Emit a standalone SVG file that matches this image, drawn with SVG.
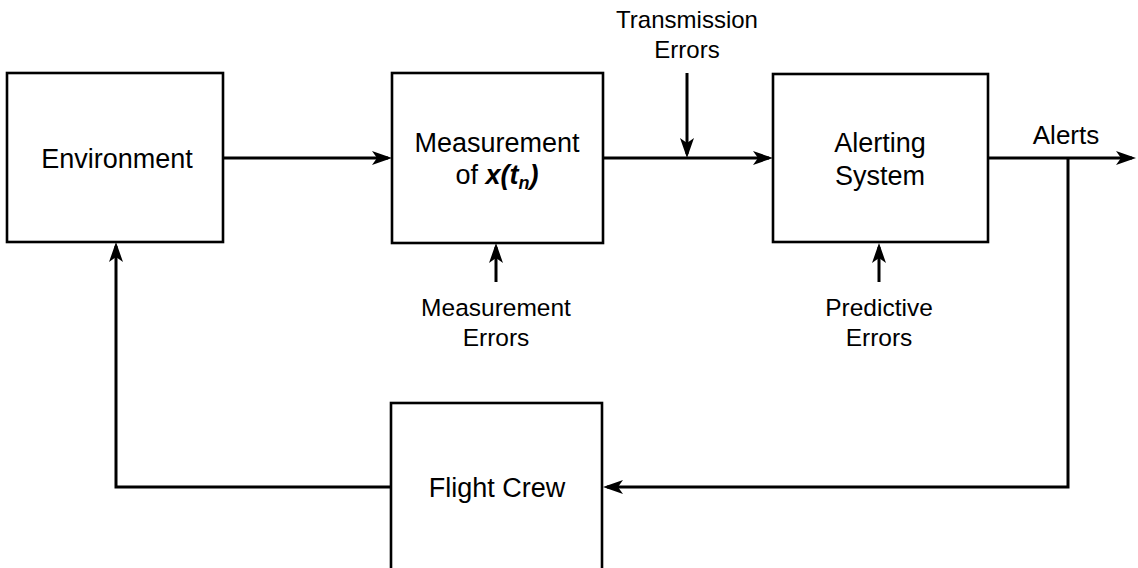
<svg xmlns="http://www.w3.org/2000/svg" width="1138" height="568" viewBox="0 0 1138 568">
<defs>
<style>
.box{fill:#fff;stroke:#000;stroke-width:2.6}
.ln{fill:none;stroke:#000;stroke-width:3}
.t{font-family:"Liberation Sans",Arial,sans-serif;fill:#000;text-anchor:middle}
.bl{font-size:27px}
.el{font-size:24.5px}
.bi{font-weight:bold;font-style:italic}
</style>
<marker id="ah" markerUnits="userSpaceOnUse" markerWidth="22" markerHeight="16" viewBox="0 0 22 16" refX="17" refY="8" orient="auto">
<path d="M21,8 L1,1 L6,8 L1,15 Z" fill="#000"/>
</marker>
</defs>
<rect width="1138" height="568" fill="#fff"/>
<g id="connectors">
<line class="ln" x1="223" y1="158" x2="388" y2="158" marker-end="url(#ah)"/>
<line class="ln" x1="603" y1="158" x2="769" y2="158" marker-end="url(#ah)"/>
<line class="ln" x1="687" y1="73" x2="687" y2="154" marker-end="url(#ah)"/>
<line class="ln" x1="496" y1="282" x2="496" y2="247" marker-end="url(#ah)"/>
<line class="ln" x1="879" y1="282" x2="879" y2="247" marker-end="url(#ah)"/>
<line class="ln" x1="988" y1="158" x2="1132" y2="158" marker-end="url(#ah)"/>
<polyline class="ln" points="1068,158 1068,487 607,487" marker-end="url(#ah)"/>
<polyline class="ln" points="391,487 116,487 116,246" marker-end="url(#ah)"/>
</g>
<g id="environment">
<rect class="box" x="7" y="73" width="216" height="169"/>
<text class="t bl" x="117" y="168">Environment</text>
</g>
<g id="measurement">
<rect class="box" x="392" y="73" width="211" height="170"/>
<text class="t bl" x="497" y="152">Measurement</text>
<text class="t bl" x="497" y="184">of <tspan class="bi">x(t</tspan><tspan class="bi" font-size="18" dy="5">n</tspan><tspan class="bi" dy="-5">)</tspan></text>
</g>
<g id="alerting">
<rect class="box" x="773" y="74" width="215" height="168"/>
<text class="t bl" x="880" y="152">Alerting</text>
<text class="t bl" x="880" y="185">System</text>
</g>
<g id="flightcrew">
<rect class="box" x="391" y="403" width="211" height="170"/>
<text class="t bl" x="497" y="497">Flight Crew</text>
</g>
<g id="labels">
<text class="t" font-size="24" x="687" y="28">Transmission</text>
<text class="t" font-size="24" x="687" y="58">Errors</text>
<text class="t" font-size="26" x="1066" y="144">Alerts</text>
<text class="t el" x="496" y="316">Measurement</text>
<text class="t el" x="496" y="346">Errors</text>
<text class="t el" x="879" y="316">Predictive</text>
<text class="t el" x="879" y="346">Errors</text>
</g>
</svg>
